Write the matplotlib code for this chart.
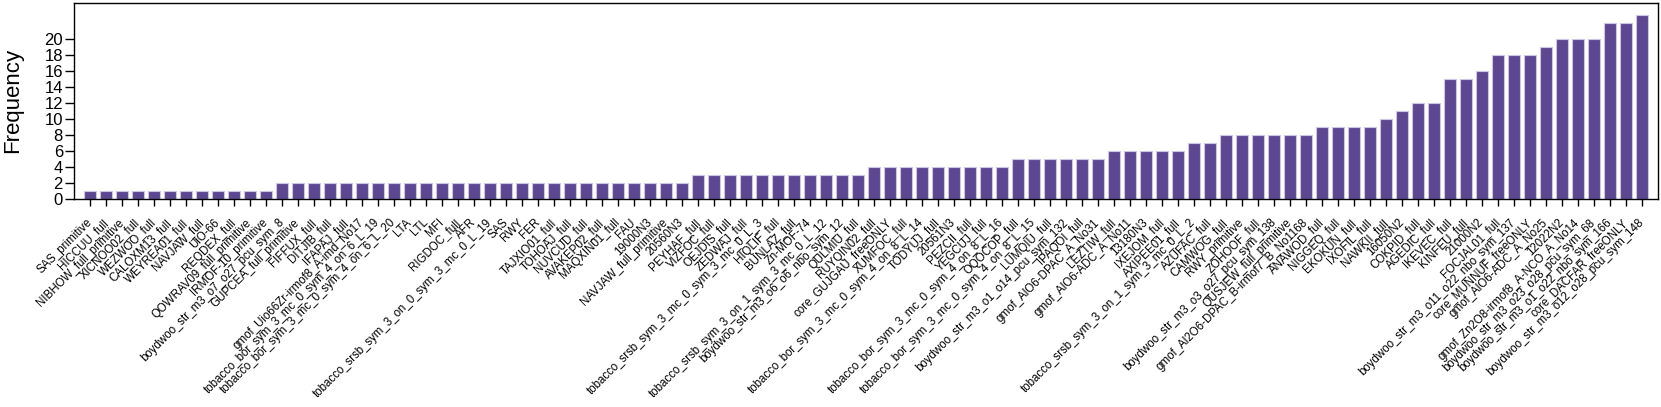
import matplotlib
matplotlib.use('Agg')
import matplotlib.pyplot as plt
import numpy as np

plt.rcParams['font.family'] = ['Liberation Sans', 'DejaVu Sans']

names = [
    'SAS_primitive', 'HICCUU_full', 'NIBHOW_full_primitive', 'XICNOO02_full',
    'WEZWOO_full', 'CALOXM13_full', 'WEYREA01_full', 'NAVJAW_full', 'UiO-66',
    'REQDEX_full', 'QOWRAV09_full_primitive', 'IRMOF-10_primitive',
    'boydwoo_str_m3_o7_o27_pcu_sym_8', 'GUPCEA_full_primitive', 'FIFFUX_full',
    'DITJIB_full', 'IFAPAJ_full', 'gmof_Uio66Zr-irmof8_A-imd_No17',
    'tobacco_bor_sym_3_mc_0_sym_4_on_6_L_19', 'tobacco_bor_sym_3_mc_0_sym_4_on_6_L_20',
    'LTA', 'LTL', 'MFI', 'RIGDOC_full', 'AFR',
    'tobacco_srsb_sym_3_on_0_sym_3_mc_0_L_19', 'SAS', 'RWY', 'FER',
    'TAJXIO01_full', 'TOHOAJ_full', 'NUVCUD_full', 'AVAKEP02_full',
    'MAQXIN01_full', 'FAU', '19000N3', 'NAVJAW_full_primitive', '20560N3',
    'PEYHAF_full', 'VIZFOC_full', 'OEJDIS_full', 'ZEDWAJ_full',
    'tobacco_srsb_sym_3_mc_0_sym_3_mc_0_L_3', 'HIQLIF_full', 'BUNLAZ_full',
    'Zn-MOF-74', 'tobacco_srsb_sym_3_on_1_sym_3_mc_0_L_12',
    'boydwoo_str_m3_o6_o6_nbo_sym_12', 'QULMIU_full', 'RUYQIN02_full',
    'core_GUJGAU_freeONLY', 'XUMFOC_full', 'tobacco_bor_sym_3_mc_0_sym_4_on_8_L_14',
    'TODYUJ_full', '20561N3', 'PEZCII_full', 'YEGCUJ_full',
    'tobacco_bor_sym_3_mc_0_sym_4_on_8_L_16', 'OQOCOP_full',
    'tobacco_bor_sym_3_mc_0_sym_4_on_8_L_15', 'LUMQIU_full',
    'boydwoo_str_m3_o1_o14_pcu_sym_132', 'IPAQOI_full', 'gmof_AlO6-DPAC_A_No31',
    'LEZTIW_full', 'gmof_AlO6-ADC_A_No11', '13180N3', 'IXEJOM_full',
    'AXIPEE01_full', 'tobacco_srsb_sym_3_on_1_sym_3_mc_0_L_2', 'AZUFAC_full',
    'CAMWOG_full', 'RWY_primitive', 'ZOHOOF_full',
    'boydwoo_str_m3_o3_o27_pcu_sym_138', 'QUSJEW_full_primitive',
    'gmof_Al2O6-DPAC_B-irmof7_B_No1168', 'ANAWOD_full', 'NIGGEQ_full',
    'EKOKUN_full', 'IXOFIL_full', 'NAWKII_full', '16050N2', 'COKPID_full',
    'AGEDIC_full', 'IKEVEC_full', 'KINFEU_full', '21000N2', 'FOCJAL01_full',
    'boydwoo_str_m3_o11_o22_nbo_sym_137', 'core_MUNNUF_freeONLY',
    'gmof_AlO6-ADC_A_No25', '12022N2', 'gmof_Zn2O8-irmof8_A-NCO_A_No14',
    'boydwoo_str_m3_o23_o28_pcu_sym_68', 'boydwoo_str_m3_o1_o22_nbo_sym_166',
    'core_DACFAR_freeONLY', 'boydwoo_str_m3_o12_o28_pcu_sym_148',
]

freq = ([1] * 12 + [2] * 26 + [3] * 11 + [4] * 9 + [5] * 6 + [6] * 5 +
        [7] * 2 + [8] * 6 + [9] * 4 + [10, 11, 12, 12, 15, 15, 16, 18, 18, 18,
                                      19, 20, 20, 20, 22, 22, 23])

fig = plt.figure(figsize=(16.61, 4.07), dpi=100)
ax = fig.add_axes([0.0446, 0.512, 0.9536, 0.4805])

x = np.arange(len(names))
ax.bar(x, freq, width=0.8, color='#5c4891', edgecolor='#cdc4e3', linewidth=0.8)

ax.set_xlim(-1, len(names))
ax.set_ylim(0, 24.5)
ax.set_yticks(range(0, 21, 2))
ax.set_xticks(x)
ax.set_xticklabels(names, rotation=45, ha='right', va='center',
                   rotation_mode='anchor', fontsize=8.3)
ax.tick_params(axis='y', labelsize=12, length=6.5, width=1, pad=1.5)
ax.tick_params(axis='x', length=5, width=1, pad=11)
ax.set_ylabel('Frequency', fontsize=16)
ax.yaxis.set_label_coords(-0.032, 0.5)
for s in ax.spines.values():
    s.set_linewidth(1)

fig.savefig('out.png', dpi=100)
